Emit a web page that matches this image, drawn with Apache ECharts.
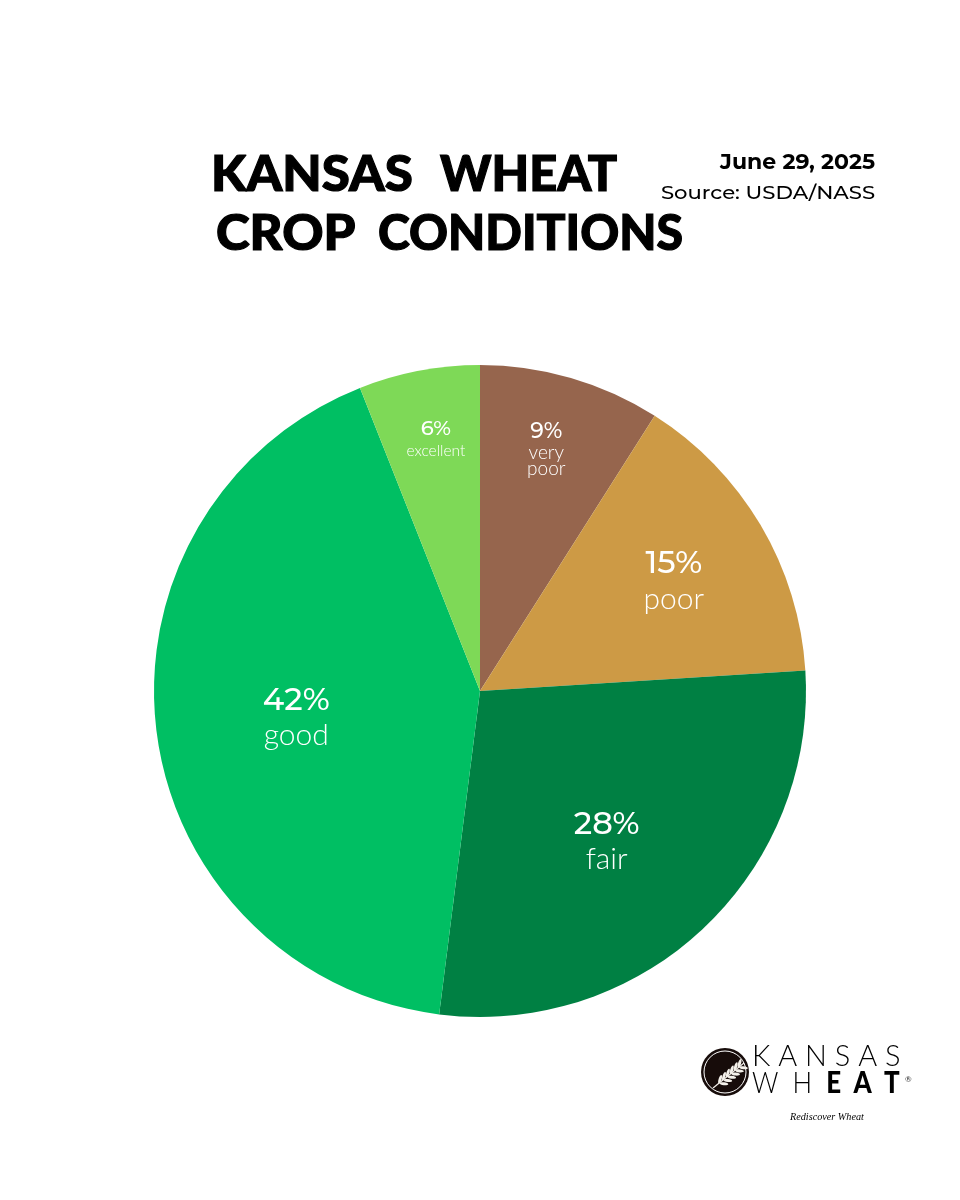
<!DOCTYPE html>
<html><head><meta charset="utf-8"><style>html,body{margin:0;padding:0;background:#fff}#c{width:960px;height:1200px}</style>
<script src="https://cdn.jsdelivr.net/npm/echarts@6/dist/echarts.min.js"></script></head><body><div id="c"></div>
<script>
const categories=['very poor','poor','fair','good','excellent'];
const values=[9,15,28,42,6];
const colors=['#96654D','#CD9A45','#008043','#00BF63','#7ED957'];
const labelNames=['very\npoor','poor','fair','good','excellent'];
const big={p:{fontFamily:'Montserrat',fontWeight:500,fontSize:32,lineHeight:35,color:'#fff'},n:{fontFamily:'Lato',fontWeight:300,fontSize:30,lineHeight:35,color:'#fff'}};
const small={p:{fontFamily:'Montserrat',fontWeight:500,fontSize:22,lineHeight:26,color:'#fff'},n:{fontFamily:'Lato',fontWeight:300,fontSize:19,lineHeight:16,color:'#fff'}};
const tiny={p:{fontFamily:'Montserrat',fontWeight:500,fontSize:21,lineHeight:24,color:'#fff'},n:{fontFamily:'Lato',fontWeight:300,fontSize:15.5,lineHeight:20,color:'#fff'}};
const labelStyles=[small,big,big,big,tiny];
const labelShift=[[20,-84],[51,-25],[13,30],[-19,6],[-13,-89]];
const chart=echarts.init(document.getElementById('c'),null,{renderer:'canvas'});
const titleStyle={fill:'#000',stroke:'#000',lineWidth:1.2};
const wheat=[];
for(let i=0;i<6;i++){for(const s of [-1,1]){
 wheat.push({type:'ellipse',shape:{cx:0,cy:0,rx:4.4,ry:1.5},x:722+i*3.9+s*1.9,y:1081.5-i*3.2+s*2.2,rotation:s>0?-0.1:1.25,style:{fill:'#f4f0ea'},z:10});
}}
chart.setOption({
 animation:false,
 graphic:[
  {type:'text',x:211,y:151,scaleY:.96,style:Object.assign({text:'KANSAS',font:'900 51px Lato'},titleStyle)},
  {type:'text',x:440,y:151,scaleX:.955,scaleY:.96,style:Object.assign({text:'WHEAT',font:'900 51px Lato'},titleStyle)},
  {type:'text',x:216,y:210,scaleY:.96,style:Object.assign({text:'CROP',font:'900 51px Lato'},titleStyle)},
  {type:'text',x:378,y:210,scaleX:.944,scaleY:.96,style:Object.assign({text:'CONDITIONS',font:'900 51px Lato'},titleStyle)},
  {type:'text',right:85,top:152,style:{text:'June 29, 2025',font:'700 22px Montserrat',fill:'#000',align:'right'}},
  {type:'text',x:661,y:184,scaleX:1.112,style:{text:'Source: USDA/NASS',font:'500 19px Montserrat',fill:'#000'}},
  {type:'text',x:752,y:1041,scaleX:.965,style:{text:'K A N S A S',font:'300 30px Lato',fill:'#000'}},
  {type:'text',x:752,y:1068,scaleX:.865,style:{text:'W  H  {b|E  A  T}',font:'300 30px Lato',fill:'#000',rich:{b:{fontFamily:'Lato',fontWeight:900,fontSize:30,fill:'#000'}}}},
  {type:'text',x:905,y:1075,style:{text:'®',font:'400 8px Lato',fill:'#333'}},
  {type:'text',x:790,y:1112,style:{text:'Rediscover Wheat',font:'italic 10.2px "Liberation Serif"',fill:'#000'}},
  {type:'circle',shape:{cx:725,cy:1072,r:24},style:{fill:'#170c0a'}},
  {type:'circle',shape:{cx:725,cy:1072,r:21},style:{fill:'#170c0a',stroke:'#fff',lineWidth:1},z:9},
  {type:'line',shape:{x1:713,y1:1088,x2:744,y2:1063},style:{stroke:'#f4f0ea',lineWidth:1.2},z:10},
  ...wheat
 ],
 series:[{type:'pie',center:[480,691],radius:[0,326],startAngle:90,clockwise:true,
  label:{position:'inside'},labelLine:{show:false},
  labelLayout:p=>({dx:labelShift[p.dataIndex][0],dy:labelShift[p.dataIndex][1]}),
  data:categories.map((n,i)=>({name:n,value:values[i],itemStyle:{color:colors[i]},
   label:{formatter:'{p|'+values[i]+'%}\n'+labelNames[i].split('\n').map(t=>'{n|'+t+'}').join('\n'),rich:labelStyles[i]}}))
 }]
});
</script></body></html>
